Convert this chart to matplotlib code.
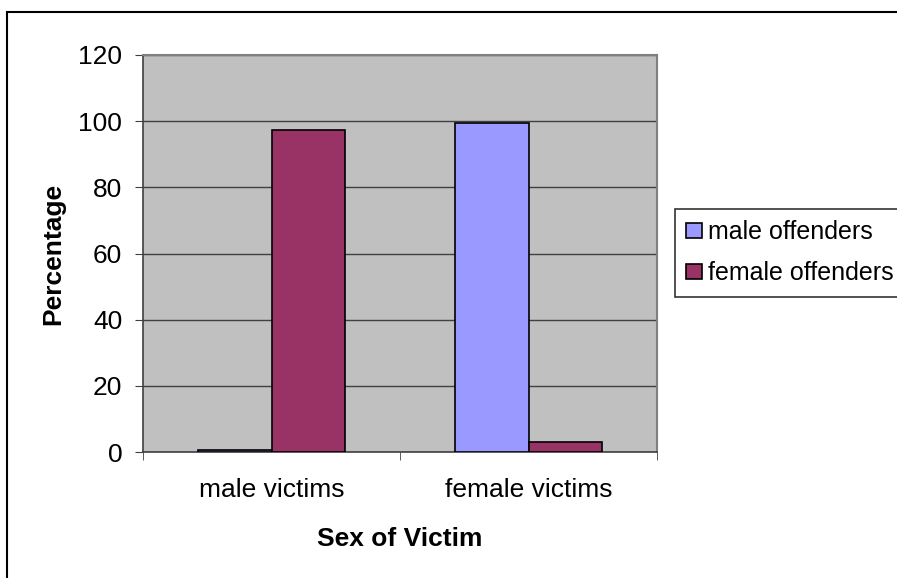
import matplotlib.pyplot as plt
import numpy as np
from matplotlib.patches import Rectangle

plt.rcParams['font.family'] = ['Liberation Sans', 'DejaVu Sans']

categories = ['male victims', 'female victims']
male_offenders = [0.6, 99.4]
female_offenders = [97.3, 3.0]
yticks = [0, 20, 40, 60, 80, 100, 120]

fig = plt.figure(figsize=(8.97, 5.78), dpi=100)
ax = fig.add_axes([143 / 897, 1 - 452 / 578, (657 - 143) / 897, (452 - 55) / 578])
ax.set_facecolor('#C0C0C0')

x = np.arange(len(categories))
w = 1 / 3.5
ax.bar(x - w / 2, male_offenders, w, color='#9999FF', edgecolor='black', linewidth=1.2,
       label='male offenders', zorder=3)
ax.bar(x + w / 2, female_offenders, w, color='#993366', edgecolor='black', linewidth=1.2,
       label='female offenders', zorder=3)

ax.set_xlim(-0.5, 1.5)
ax.set_ylim(0, 120)
ax.set_yticks(yticks)
ax.yaxis.grid(True, color='#404040', linewidth=1, zorder=1)
ax.set_xticks(x)
ax.set_xticklabels(categories)
ax.set_xticks([-0.5, 0.5, 1.5], minor=True)
ax.tick_params(axis='x', which='major', length=0, pad=19, labelsize=19)
ax.tick_params(axis='x', which='minor', length=6, direction='out', color='#404040')
ax.tick_params(axis='y', length=6, direction='out', color='#404040', labelsize=19, pad=9)

for s in ['top', 'right']:
    ax.spines[s].set_color('#808080')
    ax.spines[s].set_linewidth(1.5)
for s in ['left', 'bottom']:
    ax.spines[s].set_color('#404040')
    ax.spines[s].set_linewidth(1.2)

ax.set_ylabel('Percentage', fontsize=19, fontweight='bold', labelpad=9)
ax.set_xlabel('Sex of Victim', fontsize=19, fontweight='bold', labelpad=18)

leg = fig.legend(loc='upper left', bbox_to_anchor=(675 / 897, 1 - 209 / 578),
                 fontsize=18, frameon=True, fancybox=False, edgecolor='black',
                 handlelength=0.64, handleheight=0.6, handletextpad=0.24,
                 borderpad=0.45, labelspacing=0.68, borderaxespad=0)
leg.get_frame().set_linewidth(1.2)

fig.patches.append(Rectangle((7 / 897, -0.01), 1.0, 1 - 12 / 578 + 0.01,
                             transform=fig.transFigure, fill=False,
                             edgecolor='black', linewidth=1.5))

fig.savefig('out.png', dpi=100)
